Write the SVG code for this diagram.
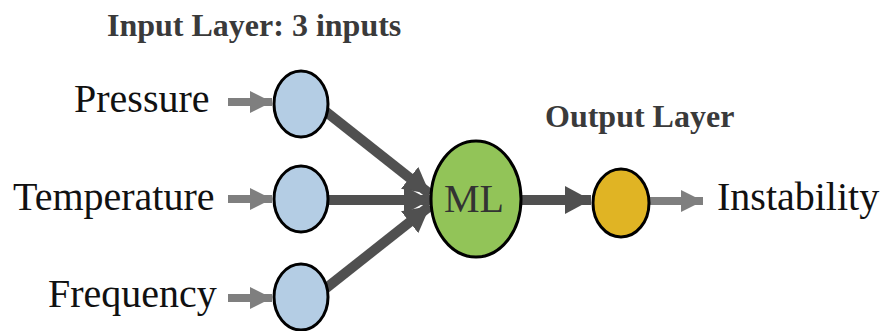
<svg xmlns="http://www.w3.org/2000/svg" width="886" height="331" viewBox="0 0 886 331">
  <style>
    .label { font-family: "Liberation Serif", "Times New Roman", serif; font-size: 40px; fill: #111; }
    .title { font-family: "Liberation Serif", "Times New Roman", serif; font-size: 32px; font-weight: bold; fill: #3a3a3a; }
    .node { stroke: #000; stroke-width: 3; }
    .input { fill: #b4cde4; }
    .ml { fill: #92c458; }
    .out { fill: #e0b424; }
    .thin { stroke: #7f7f7f; stroke-width: 8; fill: none; }
    .thick { stroke: #505050; stroke-width: 10; fill: none; }
  </style>
  <defs>
    <marker id="headLight" markerUnits="userSpaceOnUse" markerWidth="22" markerHeight="22" refX="22" refY="11" orient="auto">
      <path d="M0,0 L22,11 L0,22 Z" fill="#7f7f7f"/>
    </marker>
    <marker id="headDark" markerUnits="userSpaceOnUse" markerWidth="26" markerHeight="28" refX="26" refY="14" orient="auto">
      <path d="M0,0 L26,14 L0,28 Z" fill="#505050"/>
    </marker>
  </defs>

  <rect width="886" height="331" fill="#fff"/>

  <!-- layer titles -->
  <text class="title" x="107" y="36">Input Layer: 3 inputs</text>
  <text class="title" x="545" y="127" font-size="31">Output Layer</text>

  <!-- connectors -->
  <g id="connectors">
    <line class="thin" x1="228" y1="102" x2="272" y2="102" marker-end="url(#headLight)"/>
    <line class="thin" x1="228" y1="199" x2="272" y2="199" marker-end="url(#headLight)"/>
    <line class="thin" x1="228" y1="298" x2="272" y2="298" marker-end="url(#headLight)"/>
    <line class="thick" x1="325" y1="111" x2="430" y2="194" marker-end="url(#headDark)"/>
    <line class="thick" x1="328" y1="200" x2="430" y2="200" marker-end="url(#headDark)"/>
    <line class="thick" x1="325" y1="289" x2="430" y2="206" marker-end="url(#headDark)"/>
    <line class="thick" x1="522" y1="200" x2="591" y2="200" marker-end="url(#headDark)"/>
    <line class="thin" x1="650" y1="201" x2="703" y2="201" marker-end="url(#headLight)"/>
  </g>

  <!-- input nodes -->
  <g id="pressure">
    <text class="label" x="74" y="112">Pressure</text>
    <ellipse class="node input" cx="301" cy="104" rx="27" ry="33"/>
  </g>
  <g id="temperature">
    <text class="label" x="13" y="210">Temperature</text>
    <ellipse class="node input" cx="301" cy="199" rx="27" ry="33"/>
  </g>
  <g id="frequency">
    <text class="label" x="48" y="307">Frequency</text>
    <ellipse class="node input" cx="301" cy="297" rx="27" ry="33"/>
  </g>

  <!-- model node -->
  <g id="ml">
    <ellipse class="node ml" cx="476" cy="199" rx="45" ry="58"/>
    <text x="474" y="212" text-anchor="middle" font-family="Liberation Serif, Times New Roman, serif" font-size="40" fill="#333">ML</text>
  </g>

  <!-- output node -->
  <g id="instability">
    <ellipse class="node out" cx="621" cy="203" rx="28" ry="34"/>
    <text class="label" x="717" y="210">Instability</text>
  </g>
</svg>
